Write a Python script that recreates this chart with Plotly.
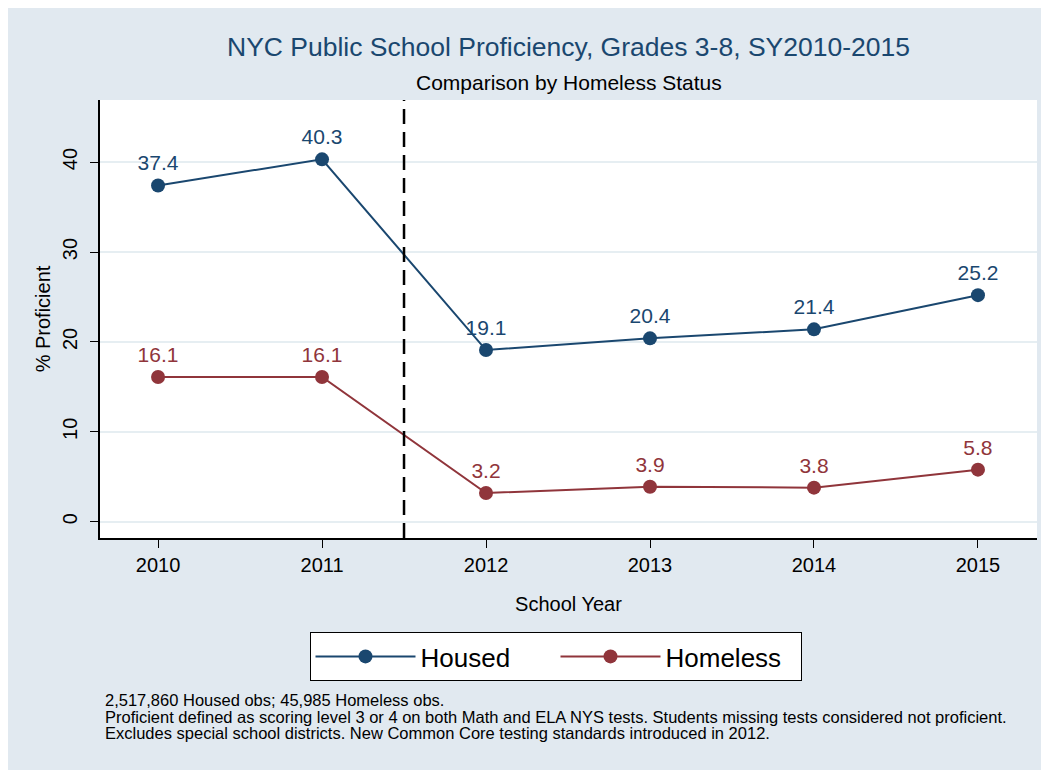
import plotly.graph_objects as go

years = [2010, 2011, 2012, 2013, 2014, 2015]
housed = [37.4, 40.3, 19.1, 20.4, 21.4, 25.2]
homeless = [16.1, 16.1, 3.2, 3.9, 3.8, 5.8]
series_names = ["Housed", "Homeless"]
y_ticks = [0, 10, 20, 30, 40]
title_text = "NYC Public School Proficiency, Grades 3-8, SY2010-2015"
subtitle_text = "Comparison by Homeless Status"
note_lines = [
    "2,517,860 Housed obs; 45,985 Homeless obs.",
    "Proficient defined as scoring level 3 or 4 on both Math and ELA NYS tests. Students missing tests considered not proficient.",
    "Excludes special school districts. New Common Core testing standards introduced in 2012.",
]
break_year = 2011.5

NAVY = "#1a476f"
MAROON = "#90353b"
BG = "#e1e9f0"
GRID = "#e6eef2"
FONT = "Liberation Sans, Arial, sans-serif"

fig = go.Figure()
for name, vals, col in [(series_names[0], housed, NAVY), (series_names[1], homeless, MAROON)]:
    fig.add_trace(go.Scatter(
        x=years, y=vals, name=name, mode="lines+markers+text",
        text=[f"{v:.1f}" for v in vals], textposition="top center",
        textfont=dict(color=col, size=21, family=FONT),
        line=dict(color=col, width=2),
        marker=dict(color=col, size=14),
        cliponaxis=False,
    ))

L, R, T, B = 92, 20, 92, 240
W, H = 1049, 770
pw, ph = W - L - R, H - T - B

def px(xp):
    return (xp - L) / pw

def py(yp):
    return (H - B - yp) / ph

fig.add_shape(type="line", xref="x", yref="paper", x0=break_year, x1=break_year,
              y0=0, y1=1, line=dict(color="black", width=2.5, dash="15px,8px"))

fig.add_annotation(text=title_text, xref="paper", yref="paper", x=0.5, y=py(39),
                   showarrow=False, font=dict(size=26.5, color=NAVY, family=FONT),
                   xanchor="center", yanchor="middle")
fig.add_annotation(text=subtitle_text, xref="paper", yref="paper", x=0.5, y=py(74),
                   showarrow=False, font=dict(size=21, color="black", family=FONT),
                   xanchor="center", yanchor="middle")
for i, (line, yc) in enumerate(zip(note_lines, [692, 709, 725])):
    fig.add_annotation(text=line, xref="paper", yref="paper",
                       x=px(95), y=py(yc), showarrow=False, align="left",
                       xanchor="left", yanchor="middle",
                       font=dict(size=16.5, color="black", family=FONT))

fig.update_layout(
    width=W, height=H,
    margin=dict(l=L, r=R, t=T, b=B),
    paper_bgcolor=BG, plot_bgcolor="white",
    font=dict(family=FONT, color="black"),
    showlegend=True,
    legend=dict(orientation="h", x=px(547.5), xanchor="center", y=py(624), yanchor="top",
                bordercolor="black", borderwidth=1, bgcolor="white",
                font=dict(size=26, color="black", family=FONT),
                entrywidth=130, itemwidth=100),
    xaxis=dict(range=[2009.646, 2015.36], tickvals=years, ticktext=[str(y) for y in years],
               showgrid=False, zeroline=False, showline=True, linecolor="black", linewidth=1.5,
               ticks="outside", ticklen=8, tickcolor="black", tickfont=dict(size=20),
               title=dict(text="School Year", font=dict(size=20), standoff=22)),
    yaxis=dict(range=[-1.8, 46.9], tickvals=y_ticks, tickangle=-90,
               showgrid=True, gridcolor=GRID, gridwidth=1.5, zeroline=False,
               showline=True, linecolor="black", linewidth=1.5, ticklabelstandoff=5,
               ticks="outside", ticklen=8, tickcolor="black", tickfont=dict(size=20),
               title=dict(text="% Proficient", font=dict(size=20), standoff=3)),
)

fig.write_html("out.html")
